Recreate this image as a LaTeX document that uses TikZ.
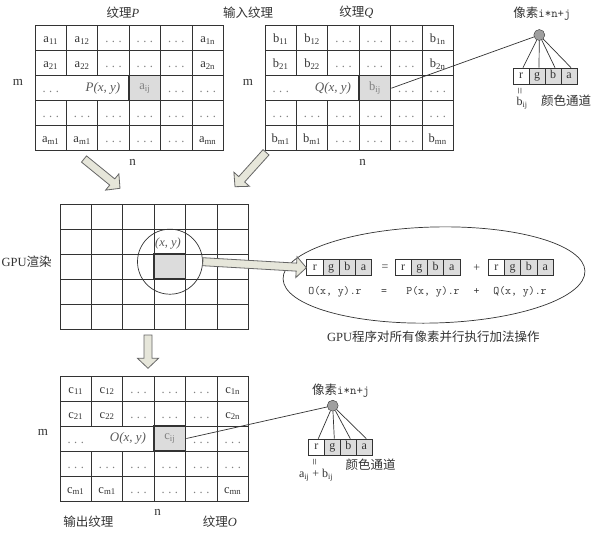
\documentclass[tikz,border=0pt]{standalone}
\usepackage{fontspec}
\setmainfont{Liberation Serif}
\newfontfamily\cjk{Noto Sans CJK SC}
\usetikzlibrary{calc,shapes.geometric}
\definecolor{ink}{HTML}{333333}
\definecolor{lgray}{HTML}{DCDCDC}
\definecolor{afill}{HTML}{E6E6DA}
\newcommand\dd{\textcolor{gray}{.\hspace{3.5pt}.\hspace{3.5pt}.}}
\tikzset{
  gridline/.style={draw=ink, line width=0.8pt},
  celltxt/.style={anchor=base, text=ink, font=\fontsize{12.5}{12.5}\selectfont, inner sep=0pt},
  hlcell/.style={draw=ink, line width=1.5pt, fill=lgray, minimum width=31.4pt, minimum height=25pt, inner sep=0pt, text=gray, font=\fontsize{12.5}{12.5}\selectfont},
  xylbl/.style={text=black!65, font=\fontsize{13}{13}\selectfont, inner sep=0pt},
  dimlbl/.style={text=ink, font=\fontsize{13}{13}\selectfont, inner sep=0pt},
  lbl/.style={text=ink, font=\fontsize{12.5}{12.5}\selectfont, inner sep=0pt},
  chan/.style={draw=ink, line width=0.7pt, minimum height=16pt, inner sep=0pt, text height=7.5pt, text depth=2.5pt, font=\fontsize{12}{12}\selectfont, text=ink},
  pix/.style={circle, draw=ink, fill=gray!75, minimum size=11pt, inner sep=0pt},
  thinline/.style={draw=ink, line width=0.7pt},
  fatarr/.style={draw=black!60, fill=afill, line width=0.8pt, line join=miter},
  eqtxt/.style={text=ink, font=\fontsize{12}{12}\selectfont, inner sep=0pt},
  mono/.style={text=ink, font=\fontsize{11.5}{11.5}\ttfamily, inner sep=0pt}
}
\newcommand\texgrid[6]{%
\begin{scope}[shift={(#2,#3)}]
 \draw[gridline] (0,0) rectangle (188.4,125);
 \foreach \rr in {1,2,3,4} {\draw[gridline] (0,25*\rr) -- (188.4,25*\rr);}
 \foreach \cc in {1,2} {\draw[gridline] (31.4*\cc,0) -- (31.4*\cc,50); \draw[gridline] (31.4*\cc,75) -- (31.4*\cc,125);}
 \foreach \cc in {3,4,5} {\draw[gridline] (31.4*\cc,0) -- (31.4*\cc,125);}
 \foreach \txt [count=\i from 0] in {#4} {%
   \pgfmathtruncatemacro\cc{mod(\i,6)}%
   \pgfmathtruncatemacro\rr{div(\i,6)}%
   \node[celltxt] (#1-\rr-\cc) at ({31.4*(\cc+0.5)},{25*(\rr+0.5)+4.5}) {\txt};}
 \node[hlcell] (#1ij) at (109.9,62.5) {#5\textsubscript{ij}};
 \node[xylbl] (#1xy) at (68,62.5) {\textit{#6(x,\ y)}};
 \node[dimlbl] (#1m) at (-17,56.5) {m};
 \node[dimlbl] (#1n) at (97.5,136.5) {n};
\end{scope}}
\newcommand\chans[4]{%
 \node[chan,fill=white,minimum width=#4pt] (#1r) at ({#2+0.5*#4},#3) {r};
 \node[chan,fill=lgray,minimum width=#4pt] (#1g) at ({#2+1.5*#4},#3) {g};
 \node[chan,fill=lgray,minimum width=#4pt] (#1b) at ({#2+2.5*#4},#3) {b};
 \node[chan,fill=lgray,minimum width=#4pt] (#1a) at ({#2+3.5*#4},#3) {a};}
\newcommand\fatarrow[2]{%
 \coordinate (fa-c) at ($(#2)!10pt!(#1)$);
 \draw[fatarr] ($(#1)!4pt!90:(#2)$) -- ($(fa-c)!4pt!90:(#2)$) -- ($(fa-c)!10.5pt!90:(#2)$) -- (#2)
   -- ($(fa-c)!10.5pt!-90:(#2)$) -- ($(fa-c)!4pt!-90:(#2)$) -- ($(#1)!4pt!-90:(#2)$) -- cycle;}
\begin{document}
\begin{tikzpicture}[x=1pt,y=-1pt]
\fill[white] (0,0) rectangle (593,538);
\useasboundingbox (0,0) rectangle (593,538);

% ---- input textures ----
\texgrid{P}{35}{25.7}{a\textsubscript{11},a\textsubscript{12},\dd,\dd,\dd,a\textsubscript{1n},
 a\textsubscript{21},a\textsubscript{22},\dd,\dd,\dd,a\textsubscript{2n},
 \dd,{},{},{},\dd,\dd,
 \dd,\dd,\dd,\dd,\dd,\dd,
 a\textsubscript{m1},a\textsubscript{m1},\dd,\dd,\dd,a\textsubscript{mn}}{a}{P}
\texgrid{Q}{265}{25.7}{b\textsubscript{11},b\textsubscript{12},\dd,\dd,\dd,b\textsubscript{1n},
 b\textsubscript{21},b\textsubscript{22},\dd,\dd,\dd,b\textsubscript{2n},
 \dd,{},{},{},\dd,\dd,
 \dd,\dd,\dd,\dd,\dd,\dd,
 b\textsubscript{m1},b\textsubscript{m1},\dd,\dd,\dd,b\textsubscript{mn}}{b}{Q}
\node[lbl] (tP) at (123,12.7) {{\cjk 纹理}\textit{P}};
\node[lbl] (tIn) at (248,12.7) {\cjk 输入纹理};
\node[lbl] (tQ) at (356.5,12.7) {{\cjk 纹理}\textit{Q}};

% ---- pixel of Q ----
\node[lbl] (tpixQ) at (542,13.3) {{\cjk 像素}{\fontsize{12.5}{12.5}\ttfamily i*n+j}};
\node[pix] (pixQ) at (539.3,35) {};
\chans{q}{513}{76}{16}
\foreach \ch in {r,g,b,a} {\draw[thinline] (pixQ) -- ($(q\ch.north)+(2,0)$);}
\draw[thinline] (Qij.east) -- (pixQ);
\node[eqtxt] (qeq) at (521,91) {\rotatebox{90}{\fontsize{12}{12}\selectfont =}};
\node[eqtxt] (qbij) at (522,103) {b\textsubscript{ij}};
\node[lbl] (qcol) at (566,101) {\cjk 颜色通道};

% ---- GPU render grid ----
\begin{scope}[shift={(60,204)}]
 \draw[gridline] (0,0) rectangle (188.4,125);
 \foreach \rr in {1,2,3,4} {\draw[gridline] (0,25*\rr) -- (188.4,25*\rr);}
 \foreach \cc in {1,...,5} {\draw[gridline] (31.4*\cc,0) -- (31.4*\cc,125);}
 \node[hlcell] (Mij) at (109.9,62.5) {};
\end{scope}
\node[circle, draw=ink, line width=0.7pt, minimum size=65pt, inner sep=0pt] (circ) at (170,261.7) {};
\node[xylbl, font=\fontsize{12.5}{12.5}\selectfont] (mxy) at (168,243.3) {\textit{(x,\ y)}};
\node[lbl] (tgpu) at (26.7,261.7) {GPU{\cjk 渲染}};

% arrows between grids
\coordinate (aL1) at (84,159);  \coordinate (aL2) at (120,188.3);
\coordinate (aR1) at (266,152.3); \coordinate (aR2) at (235,186.7);
\coordinate (aD1) at (148,335); \coordinate (aD2) at (148,368.3);
\fatarrow{aL1}{aL2}
\fatarrow{aR1}{aR2}
\fatarrow{aD1}{aD2}

% ---- ellipse with operation ----
\node[ellipse, draw=ink, line width=0.7pt, minimum width=302pt, minimum height=96pt, rotate=1.5] (ell) at (434,275) {};
\chans{e1}{306.7}{267.7}{16.25}
\chans{e2}{395}{267.7}{16.25}
\chans{e3}{488.3}{267.7}{16.25}
\node[eqtxt] (eq1) at (385,267.7) {=};
\node[eqtxt] (pl1) at (476.7,267.7) {+};
\node[mono] (fO) at (335,291.7) {O(x, y).r};
\node[mono] (eq2) at (384,291.7) {=};
\node[mono] (fP) at (433,291.7) {P(x, y).r};
\node[mono] (pl2) at (476.7,291.7) {+};
\node[mono] (fQ) at (520,291.7) {Q(x, y).r};
\node[lbl] (cap) at (433.3,336.7) {GPU{\cjk 程序对所有像素并行执行加法操作}};
\fatarrow{circ.east}{e1r.west}

% ---- output texture ----
\texgrid{O}{60}{376}{c\textsubscript{11},c\textsubscript{12},\dd,\dd,\dd,c\textsubscript{1n},
 c\textsubscript{21},c\textsubscript{22},\dd,\dd,\dd,c\textsubscript{2n},
 \dd,{},{},{},\dd,\dd,
 \dd,\dd,\dd,\dd,\dd,\dd,
 c\textsubscript{m1},c\textsubscript{m1},\dd,\dd,\dd,c\textsubscript{mn}}{c}{O}
\node[lbl] (tOut) at (88.3,521.7) {\cjk 输出纹理};
\node[lbl] (tO) at (220,521.7) {{\cjk 纹理}\textit{O}};

% ---- pixel of O ----
\node[lbl] (tpixO) at (340.8,390.7) {{\cjk 像素}{\fontsize{12.5}{12.5}\ttfamily i*n+j}};
\node[pix] (pixO) at (332.7,405.7) {};
\chans{o}{308.3}{447}{16}
\foreach \ch in {r,g,b,a} {\draw[thinline] (pixO) -- ($(o\ch.north)+(2,0)$);}
\draw[thinline] (Oij.east) -- (pixO);
\node[eqtxt] (oeq) at (316,462) {\rotatebox{90}{\fontsize{12}{12}\selectfont =}};
\node[eqtxt] (osum) at (316,475) {a\textsubscript{ij} + b\textsubscript{ij}};
\node[lbl] (ocol) at (370.5,465) {\cjk 颜色通道};
\end{tikzpicture}
\end{document}
